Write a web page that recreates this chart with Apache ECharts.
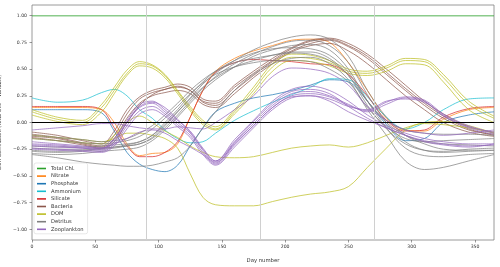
<!DOCTYPE html>
<html><head><meta charset="utf-8">
<script src="https://cdn.jsdelivr.net/npm/echarts@6/dist/echarts.min.js"></script>
<style>html,body{margin:0;padding:0;background:#fff}#c{width:500px;height:267px}</style>
</head><body><div id="c"></div>
<script>
const days = [0,20,40,55,65,75,85,95,105,115,125,135,145,160,175,190,205,220,235,250,265,280,295,310,325,345,365];
const xTicks = [0,50,100,150,200,250,300,350];
const yTicks = [-1,-0.75,-0.5,-0.25,0,0.25,0.5,0.75,1];
const seasonLines = [90,180,270];
const legendNames = ['Total Chl.','Nitrate','Phosphate','Ammonium','Silicate','Bacteria','DOM','Detritus','Zooplankton'];

const totalChl = [1,1,1,1,1,1,1,1,1,1,1,1,1,1,1,1,1,1,1,1,1,1,1,1,1,1,1];
const nitrate = [0.14,0.14,0.14,0.12,0.0,-0.2,-0.31,-0.29,-0.28,-0.2,0.05,0.3,0.48,0.6,0.67,0.72,0.77,0.78,0.75,0.56,0.3,0.04,-0.07,-0.08,0.03,0.12,0.14];
const phosphate = [0.12,0.12,0.12,0.09,-0.08,-0.28,-0.39,-0.44,-0.46,-0.4,-0.22,-0.05,0.1,0.18,0.23,0.26,0.3,0.35,0.4,0.38,0.2,-0.02,-0.17,-0.15,0.0,0.07,0.1];
const ammonium = [0.23,0.19,0.21,0.28,0.31,0.25,0.12,0.04,-0.07,-0.15,-0.19,-0.18,-0.1,0.02,0.11,0.19,0.26,0.33,0.41,0.4,0.24,0.05,-0.06,0.0,0.12,0.22,0.23];
const silicate = [0.15,0.15,0.15,0.12,-0.05,-0.22,-0.32,-0.32,-0.28,-0.18,0.05,0.3,0.47,0.56,0.59,0.58,0.57,0.55,0.54,0.45,0.25,0.02,-0.08,-0.07,0.05,0.13,0.15];

const bacteria1 = [-0.09,-0.12,-0.17,-0.2,-0.08,0.12,0.24,0.3,0.33,0.36,0.33,0.22,0.2,0.35,0.48,0.6,0.7,0.77,0.79,0.74,0.64,0.5,0.35,0.2,0.08,-0.04,-0.09];
const bacteria2 = [-0.11,-0.14,-0.19,-0.22,-0.12,0.08,0.22,0.28,0.31,0.34,0.3,0.19,0.16,0.3,0.44,0.57,0.67,0.74,0.77,0.71,0.6,0.45,0.3,0.16,0.04,-0.07,-0.11];
const bacteria3 = [-0.13,-0.15,-0.2,-0.23,-0.15,0.04,0.18,0.25,0.28,0.3,0.27,0.17,0.14,0.27,0.42,0.55,0.66,0.72,0.74,0.67,0.55,0.4,0.25,0.12,0.0,-0.09,-0.13];
const bacteria4 = [-0.14,-0.17,-0.21,-0.24,-0.18,0.0,0.16,0.26,0.31,0.33,0.3,0.2,0.18,0.33,0.46,0.58,0.69,0.76,0.78,0.72,0.62,0.47,0.32,0.18,0.06,-0.06,-0.12];

const dom1 = [0.12,0.05,0.02,0.17,0.33,0.49,0.57,0.54,0.45,0.3,0.15,0.02,-0.04,0.12,0.33,0.55,0.64,0.63,0.58,0.5,0.48,0.53,0.6,0.59,0.45,0.2,0.06];
const dom2 = [0.1,0.03,0.0,0.14,0.3,0.46,0.55,0.53,0.44,0.29,0.13,0.0,-0.06,0.1,0.3,0.52,0.61,0.6,0.56,0.48,0.46,0.51,0.58,0.57,0.42,0.17,0.04];
const dom3 = [0.07,0.01,-0.02,0.1,0.27,0.44,0.53,0.51,0.42,0.27,0.11,-0.02,-0.07,0.08,0.27,0.48,0.58,0.57,0.53,0.46,0.44,0.48,0.55,0.54,0.38,0.12,0.0];
const dom4 = [-0.15,-0.17,-0.19,-0.2,-0.12,0.0,0.06,0.0,-0.08,-0.14,-0.22,-0.28,-0.32,-0.33,-0.32,-0.28,-0.24,-0.22,-0.21,-0.23,-0.19,-0.12,-0.05,-0.01,-0.02,-0.05,-0.1];
const dom5 = [-0.12,-0.14,-0.16,-0.18,-0.15,-0.1,-0.1,-0.12,-0.15,-0.24,-0.48,-0.7,-0.77,-0.78,-0.78,-0.74,-0.7,-0.67,-0.65,-0.6,-0.42,-0.24,-0.07,0.0,0.01,-0.03,-0.1];

const detritus1 = [-0.3,-0.33,-0.37,-0.39,-0.4,-0.41,-0.41,-0.4,-0.37,-0.33,-0.22,-0.05,0.1,0.3,0.45,0.55,0.6,0.61,0.55,0.4,0.12,-0.12,-0.36,-0.44,-0.42,-0.36,-0.3];
const detritus2 = [-0.27,-0.28,-0.27,-0.25,-0.24,-0.22,-0.2,-0.14,-0.03,0.1,0.23,0.36,0.46,0.58,0.68,0.75,0.8,0.82,0.78,0.62,0.3,0.05,-0.12,-0.2,-0.25,-0.26,-0.26];
const detritus3 = [-0.26,-0.27,-0.26,-0.24,-0.23,-0.22,-0.2,-0.15,-0.05,0.07,0.2,0.32,0.43,0.55,0.64,0.71,0.76,0.77,0.72,0.56,0.26,0.0,-0.18,-0.26,-0.28,-0.27,-0.26];
const detritus4 = [-0.29,-0.3,-0.29,-0.27,-0.26,-0.25,-0.23,-0.17,-0.07,0.05,0.18,0.3,0.4,0.52,0.62,0.68,0.72,0.73,0.68,0.5,0.2,-0.05,-0.24,-0.31,-0.32,-0.3,-0.29];
const detritus5 = [-0.22,-0.23,-0.23,-0.22,-0.21,-0.2,-0.18,-0.12,0.0,0.12,0.26,0.38,0.48,0.58,0.65,0.69,0.7,0.69,0.63,0.47,0.2,0.0,-0.12,-0.18,-0.2,-0.21,-0.22];
const detritus6 = [-0.24,-0.25,-0.25,-0.24,-0.23,-0.21,-0.18,-0.12,-0.02,0.1,0.22,0.33,0.42,0.52,0.58,0.63,0.66,0.66,0.6,0.44,0.16,-0.06,-0.2,-0.26,-0.27,-0.25,-0.24];
const detritus7 = [-0.12,-0.14,-0.16,-0.18,-0.17,-0.15,-0.1,-0.03,0.07,0.18,0.3,0.4,0.48,0.56,0.6,0.63,0.65,0.64,0.58,0.44,0.2,0.02,-0.07,-0.1,-0.11,-0.11,-0.12];
const detritus8 = [-0.15,-0.17,-0.19,-0.2,-0.19,-0.17,-0.13,-0.06,0.04,0.15,0.27,0.37,0.45,0.52,0.56,0.58,0.58,0.57,0.5,0.38,0.14,-0.04,-0.15,-0.18,-0.17,-0.16,-0.15];

const zoo1 = [-0.07,-0.05,-0.03,-0.01,-0.01,-0.03,-0.05,-0.06,-0.06,-0.04,-0.05,-0.06,0.0,0.12,0.25,0.43,0.51,0.5,0.46,0.35,0.15,0.02,-0.07,-0.1,-0.12,-0.1,-0.07];
const zoo2 = [-0.2,-0.21,-0.23,-0.24,-0.15,0.02,0.17,0.2,0.12,0.02,-0.08,-0.24,-0.36,-0.16,0.02,0.2,0.31,0.34,0.3,0.2,0.07,-0.03,-0.1,-0.15,-0.18,-0.2,-0.2];
const zoo3 = [-0.22,-0.23,-0.24,-0.26,-0.18,0.0,0.14,0.18,0.1,0.0,-0.1,-0.26,-0.38,-0.19,-0.01,0.16,0.27,0.29,0.25,0.17,0.1,0.17,0.23,0.2,0.06,-0.04,-0.09];
const zoo4 = [-0.24,-0.25,-0.26,-0.27,-0.2,-0.03,0.11,0.15,0.08,-0.02,-0.12,-0.28,-0.39,-0.21,-0.03,0.14,0.25,0.27,0.24,0.16,0.11,0.19,0.24,0.21,0.08,-0.03,-0.1];
const zoo5 = [-0.25,-0.26,-0.27,-0.28,-0.22,-0.06,0.08,0.12,0.06,-0.04,-0.14,-0.3,-0.4,-0.23,-0.05,0.12,0.23,0.25,0.22,0.15,0.12,0.2,0.22,0.19,0.07,-0.05,-0.11];
const zoo6 = [-0.18,-0.2,-0.22,-0.24,-0.2,-0.15,-0.09,-0.07,-0.1,-0.17,-0.23,-0.3,-0.37,-0.2,-0.03,0.14,0.24,0.25,0.2,0.1,0.02,-0.05,-0.12,-0.18,-0.21,-0.23,-0.2];
const zoo7 = [-0.21,-0.22,-0.24,-0.25,-0.16,0.0,0.15,0.19,0.14,0.03,-0.09,-0.25,-0.36,-0.18,0.01,0.18,0.29,0.31,0.27,0.15,0.04,-0.05,-0.12,-0.17,-0.2,-0.22,-0.21];

const colors = {
  'Total Chl.':'#2ca02c','Nitrate':'#ff7f0e','Phosphate':'#1f77b4','Ammonium':'#17becf',
  'Silicate':'#d62728','Bacteria':'#8c564b','DOM':'#bcbd22','Detritus':'#7f7f7f','Zooplankton':'#9467bd'
};
const groups = [
  ['Total Chl.',[totalChl]],
  ['Nitrate',[nitrate]],
  ['Phosphate',[phosphate]],
  ['Ammonium',[ammonium]],
  ['Silicate',[silicate]],
  ['Bacteria',[bacteria1,bacteria2,bacteria3,bacteria4]],
  ['DOM',[dom1,dom2,dom3,dom4,dom5]],
  ['Detritus',[detritus1,detritus2,detritus3,detritus4,detritus5,detritus6,detritus7,detritus8]],
  ['Zooplankton',[zoo1,zoo2,zoo3,zoo4,zoo5,zoo6,zoo7]]
];
const series = [];
groups.forEach(([name, arrs]) => {
  arrs.forEach(a => {
    series.push({
      name, type:'line', showSymbol:false, smooth:0.35, silent:true,
      data: a.map((v,i)=>[days[i], v]),
      lineStyle:{color:colors[name], width: name==='Total Chl.'?1.6:0.9, opacity: name==='Total Chl.'?0.55:0.8},
      itemStyle:{color:colors[name]}, z:3
    });
  });
});
series.push({
  type:'line', data:[], silent:true, z:1,
  markLine:{silent:true, symbol:'none', label:{show:false},
    data: seasonLines.map(d=>({xAxis:d, lineStyle:{color:'#d0d0d0', width:1, type:'solid'}}))
      .concat([{yAxis:0, lineStyle:{color:'#000', width:1, type:'solid'}}])}
});
const fmt = v => { const s = Math.abs(v).toFixed(2); return v < 0 ? '\u2212' + s : s; };
const chart = echarts.init(document.getElementById('c'), null, {renderer:'canvas'});
chart.setOption({
  animation:false,
  textStyle:{fontFamily:'DejaVu Sans'},
  grid:{left:32, right:6, top:5, bottom:27, show:true, borderColor:'#808080', borderWidth:0.8,
    backgroundColor:'transparent', containLabel:false, outerBoundsMode:'none'},
  legend:{
    data: legendNames, orient:'vertical', left:34, top:163, itemGap:2.6, itemWidth:9, itemHeight:1.6,
    icon:'rect', textStyle:{fontSize:5.2, color:'#333', fontFamily:'DejaVu Sans'},
    backgroundColor:'rgba(255,255,255,0.85)', borderColor:'#d8d8d8', borderWidth:0.6, borderRadius:2,
    padding:[3,4,2,3]
  },
  xAxis:{type:'value', min:0, max:365, interval:50,
    name:'Day number', nameLocation:'middle', nameGap:18, nameTextStyle:{fontSize:5.3, color:'#333'},
    axisLine:{show:false, onZero:false}, splitLine:{show:false},
    axisTick:{show:true, inside:false, length:2.5, lineStyle:{color:'#555', width:0.6}, customValues:xTicks},
    axisLabel:{fontSize:4.6, color:'#333', margin:4, customValues:xTicks}},
  yAxis:{type:'value', min:-1.1, max:1.1,
    name:'Clim Correlation (Total Chl. - Variable)', nameLocation:'middle', nameGap:24, nameRotate:90,
    nameTextStyle:{fontSize:5.1, color:'#333'},
    axisLine:{show:false, onZero:false}, splitLine:{show:false},
    axisTick:{show:true, inside:false, length:2.5, lineStyle:{color:'#555', width:0.6}, customValues:yTicks},
    axisLabel:{fontSize:4.6, color:'#333', margin:5, customValues:yTicks, formatter:fmt}},
  series
});
</script></body></html>
